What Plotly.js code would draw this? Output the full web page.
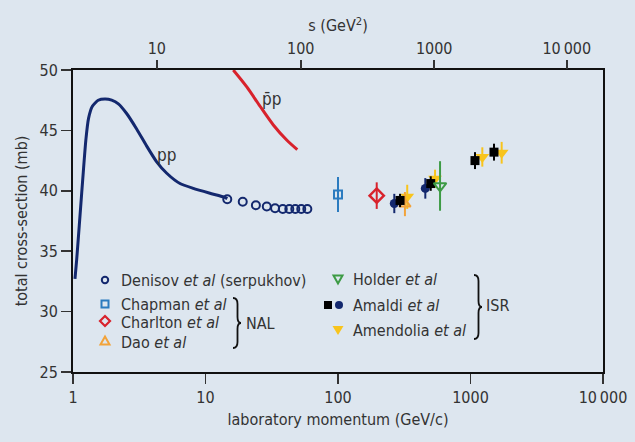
<!DOCTYPE html>
<html><head><meta charset="utf-8">
<script src="https://cdn.plot.ly/plotly-3.0.1.min.js"></script>
<style>html,body{margin:0;padding:0;background:#dde6ef}</style>
</head><body><div id="chart" style="width:635px;height:442px"></div>
<script>
// pp total cross-section curve (low energy)
const ppCurveP = [1.035,1.066,1.163,1.25,1.31,1.40,1.55,1.75,1.96,2.20,2.54,3.03,3.60,4.28,5.10,6.42,8.09,10.8,14.0,14.6];
const ppCurveSigma = [32.7,34.3,39.8,44.2,46.0,47.0,47.5,47.6,47.5,47.2,46.4,45.1,43.7,42.4,41.45,40.6,40.2,39.8,39.46,39.35];
// pbar-p curve
const pbarpP = [16.2,20.5,25.8,32.5,41.0,49.3];
const pbarpSigma = [50.0,48.6,47.0,45.45,44.2,43.4];
// Denisov et al (Serpukhov)
const denisovP = [14.6,19.1,24.0,29.0,33.5,38.3,42.9,47.6,52.8,58.7];
const denisovSigma = [39.3,39.1,38.8,38.7,38.55,38.5,38.5,38.5,38.5,38.5];
// NAL
const chapmanP = [100], chapmanSigma = [39.7], chapmanErr = [1.45];
const charltonP = [196], charltonSigma = [39.6], charltonErr = [1.1];
const daoP = [320], daoSigma = [38.9], daoErr = [1.0];
// ISR
const holderP = [589], holderSigma = [40.4], holderErr = [2.05];
const amaldiSqP = [294,501,1081,1504], amaldiSqSigma = [39.2,40.6,42.5,43.2], amaldiSqErr = [0.55,0.6,0.7,0.7];
const amaldiCircP = [266,456], amaldiCircSigma = [38.95,40.2], amaldiCircErr = [0.8,0.85];
const amendoliaP = [333,540,1228,1719], amendoliaSigma = [39.5,41.0,42.8,43.15], amendoliaErr = [1.0,0.75,0.8,0.9];
// axis ticks
const pTicks = [1,10,100,1000,10000];
const pTickText = ['1','10','100','1000','10\u2009000'];
const sTicks = [10,100,1000,10000];
const sTickText = ['10','100','1000','10\u2009000'];
const yTicks = [25,30,35,40,45,50];

const mp = 0.938;
const sToP = s => { const E = (s - 2*mp*mp)/(2*mp); return Math.sqrt(E*E - mp*mp); };

const NAVY = '#13286e', RED = '#d8222c', BLUE = '#2b7bbf', ORANGE = '#f2a33a',
      GREEN = '#3d9b45', YELLOW = '#f8c41c', BLACK = '#000000', TXT = '#333333';
const FONT = '"DejaVu Sans Condensed", "DejaVu Sans", sans-serif';

function eb(arr, color){ return {type:'data', array:arr, visible:true, thickness:2, width:0, color:color}; }

const traces = [
  {x:ppCurveP, y:ppCurveSigma, mode:'lines', line:{color:NAVY, width:3, shape:'spline', smoothing:0.55}},
  {x:pbarpP, y:pbarpSigma, mode:'lines', line:{color:RED, width:3, shape:'spline', smoothing:0.8}},
  {x:denisovP, y:denisovSigma, mode:'markers', marker:{symbol:'circle-open', size:8, color:NAVY, line:{width:2, color:NAVY}}},
  {x:chapmanP, y:chapmanSigma, mode:'markers', error_y:eb(chapmanErr, BLUE), marker:{symbol:'square-open', size:8, color:BLUE, line:{width:2, color:BLUE}}},
  {x:charltonP, y:charltonSigma, mode:'markers', error_y:eb(charltonErr, RED), marker:{symbol:'diamond-open', size:11, color:RED, line:{width:2.5, color:RED}}},
  {x:amaldiCircP, y:amaldiCircSigma, mode:'markers', error_y:eb(amaldiCircErr, NAVY), marker:{symbol:'circle', size:9, color:NAVY}},
  {x:amendoliaP, y:amendoliaSigma, mode:'markers', error_y:eb(amendoliaErr, YELLOW), marker:{symbol:'triangle-down', size:12, color:YELLOW}},
  {x:daoP, y:daoSigma, mode:'markers', error_y:eb(daoErr, ORANGE), marker:{symbol:'triangle-up-open', size:10, color:ORANGE, line:{width:2, color:ORANGE}}},
  {x:amaldiSqP, y:amaldiSqSigma, mode:'markers', error_y:eb(amaldiSqErr, BLACK), marker:{symbol:'square', size:9, color:BLACK}},
  {x:holderP, y:holderSigma, mode:'markers', error_y:eb(holderErr, GREEN), marker:{symbol:'triangle-down-open', size:11, color:GREEN, line:{width:2, color:GREEN}}},
  {x:[], y:[], xaxis:'x2', mode:'markers', hoverinfo:'skip'}
];
traces.forEach(t => { t.showlegend = false; t.cliponaxis = true; });

// plot area in pixels: left 73, right 603, top 70, bottom 372
const L = 73, W = 530, T = 70, H = 302;
const px = v => (v - L)/W, py = v => (T + H - v)/H;

function ann(text, x, y, opts){
  return Object.assign({text:text, x:px(x), y:py(y), xref:'paper', yref:'paper', showarrow:false,
    xanchor:'left', yanchor:'middle', borderpad:0, font:{family:FONT, size:16, color:TXT}}, opts||{});
}
const annotations = [
  ann('pp', 156, 155, {font:{family:FONT, size:17, color:TXT}}),
  ann('p\u0304p', 261, 99, {font:{family:FONT, size:17, color:TXT}}),
  ann('Denisov <i>et al</i> (serpukhov)', 120, 280),
  ann('Chapman <i>et al</i>', 120, 304),
  ann('Charlton <i>et al</i>', 120, 322),
  ann('Dao <i>et al</i>', 120, 342),
  ann('NAL', 245, 323),
  ann('Holder <i>et al</i>', 352, 279),
  ann('Amaldi <i>et al</i>', 352, 305),
  ann('Amendolia <i>et al</i>', 352, 330),
  ann('ISR', 485, 305)
];

function pshape(cx, cy, path, line, fill){
  return {type:'path', xref:'paper', yref:'paper', xsizemode:'pixel', ysizemode:'pixel',
    xanchor:px(cx), yanchor:py(cy), path:path, line:line, fillcolor:fill||'rgba(0,0,0,0)'};
}
function cshape(cx, cy, r, line, fill){
  return {type:'circle', xref:'paper', yref:'paper', xsizemode:'pixel', ysizemode:'pixel',
    xanchor:px(cx), yanchor:py(cy), x0:-r, x1:r, y0:-r, y1:r, line:line, fillcolor:fill||'rgba(0,0,0,0)'};
}
function bracePath(h){
  return `M -3,${h} Q 1.5,${h} 1.5,${h-6} L 1.5,6 Q 1.5,0 5,0 Q 1.5,0 1.5,-6 L 1.5,${-h+6} Q 1.5,${-h} -3,${-h}`;
}
const shapes = [
  cshape(105, 280, 3.2, {color:NAVY, width:2}),
  pshape(105, 304, 'M -3.5,-3.5 L 3.5,-3.5 L 3.5,3.5 L -3.5,3.5 Z', {color:BLUE, width:2}),
  pshape(105, 321, 'M 0,5 L 5,0 L 0,-5 L -5,0 Z', {color:RED, width:2.2}),
  pshape(105, 341, 'M -4.5,-3.5 L 4.5,-3.5 L 0,4.5 Z', {color:ORANGE, width:2}),
  pshape(338, 279, 'M -4.5,3.5 L 4.5,3.5 L 0,-4.5 Z', {color:GREEN, width:2}),
  pshape(328, 305, 'M -4,-4 L 4,-4 L 4,4 L -4,4 Z', {color:BLACK, width:0}, BLACK),
  cshape(339, 305, 4, {color:NAVY, width:0}, NAVY),
  pshape(338, 330, 'M -5.5,4 L 5.5,4 L 0,-5 Z', {color:YELLOW, width:0}, YELLOW),
  pshape(236, 323, bracePath(25), {color:'#111', width:1.8}),
  pshape(477, 307, bracePath(32), {color:'#111', width:1.8})
];

const axisCommon = {showgrid:false, zeroline:false, ticks:'outside', tickcolor:'#333', tickwidth:1.5,
  tickfont:{family:FONT, size:16, color:TXT}};

const layout = {
  width:635, height:442,
  margin:{l:L, r:635-L-W, t:T, b:442-T-H, pad:0},
  paper_bgcolor:'#dde6ef', plot_bgcolor:'#dde6ef',
  font:{family:FONT, color:TXT},
  showlegend:false,
  xaxis:Object.assign({}, axisCommon, {type:'log', range:[0,4], tickvals:pTicks, ticktext:pTickText,
    ticklen:10, showline:true, linecolor:'#111', linewidth:2, mirror:true,
    title:{text:'laboratory momentum (GeV/c)', font:{family:FONT, size:16, color:TXT}, standoff:8}}),
  xaxis2:Object.assign({}, axisCommon, {type:'log', range:[0,4], overlaying:'x', side:'top', anchor:'y',
    tickvals:sTicks.map(sToP), ticktext:sTickText, ticklen:9, showline:false,
    title:{text:'s (GeV<sup>2</sup>)', font:{family:FONT, size:16, color:TXT}, standoff:2}}),
  yaxis:Object.assign({}, axisCommon, {range:[25,50], tickvals:yTicks, ticklen:10,
    showline:true, linecolor:'#111', linewidth:2, mirror:true,
    title:{text:'total cross-section (mb)', font:{family:FONT, size:16, color:TXT}, standoff:8}}),
  annotations:annotations,
  shapes:shapes
};

Plotly.newPlot('chart', traces, layout, {displayModeBar:false, staticPlot:true});
</script>
</body></html>
